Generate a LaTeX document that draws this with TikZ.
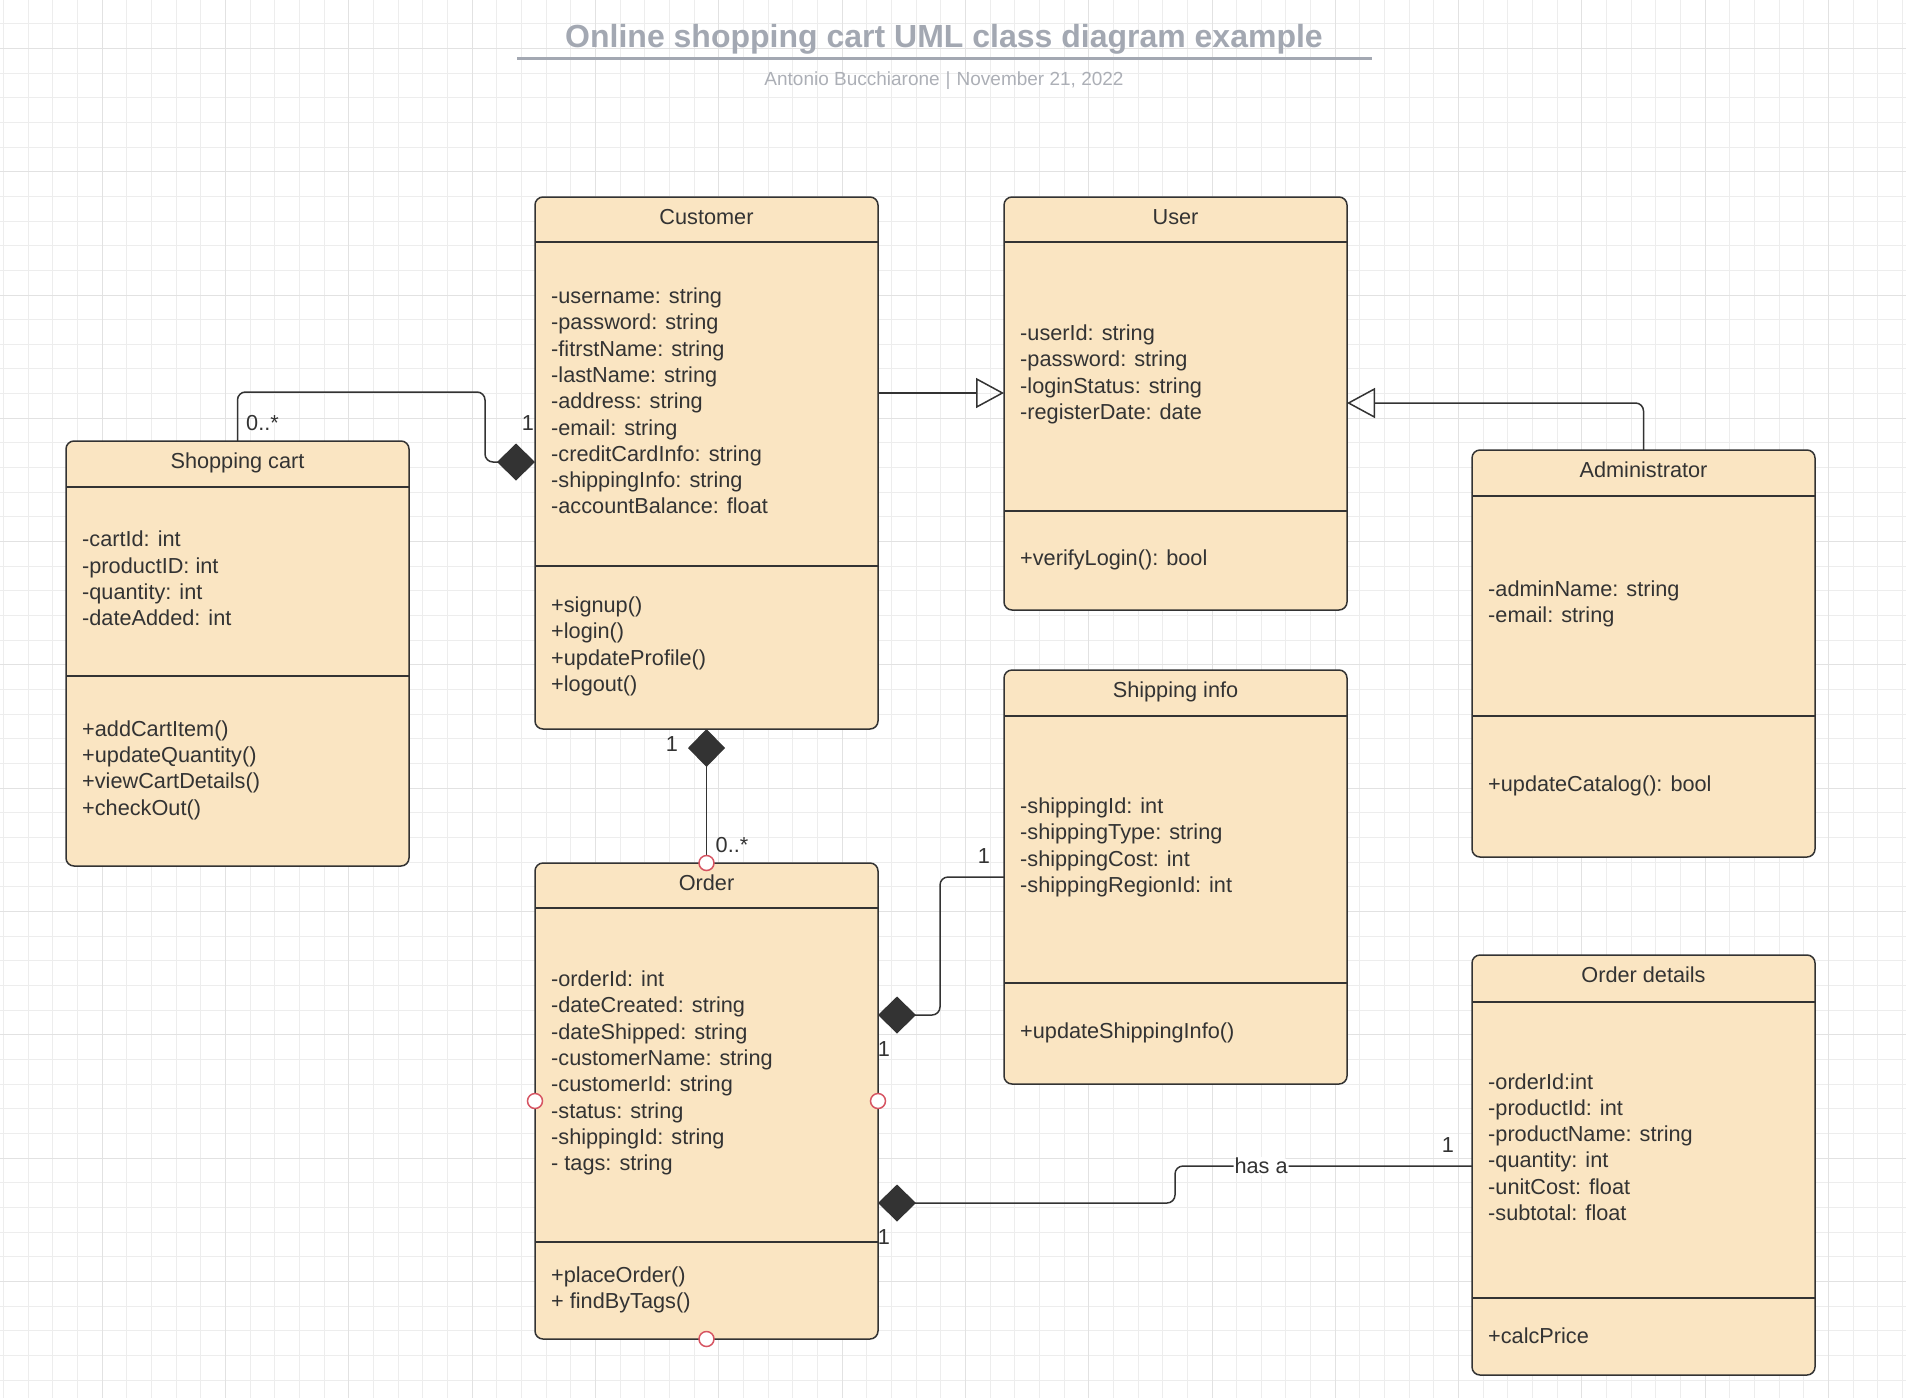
\documentclass[tikz,border=0pt]{standalone}
\usepackage{fontspec}
\setmainfont{Liberation Sans}
\usepackage{tikz}
\usetikzlibrary{arrows.meta}
\definecolor{gridminor}{RGB}{237,237,237}
\definecolor{gridmajor}{RGB}{226,226,226}
\definecolor{classfill}{RGB}{250,229,194}
\definecolor{classdraw}{RGB}{51,51,51}
\definecolor{titlegray}{RGB}{163,168,178}
\definecolor{subgray}{RGB}{172,175,182}
\definecolor{handlered}{RGB}{214,84,98}
\newcommand{\umlsize}{\fontsize{21.7}{26.3}\selectfont}

\begin{document}
\begin{tikzpicture}[x=1pt, y=-1pt,
  umlclass/.style={draw=classdraw, fill=classfill, line width=1.5pt, rounded corners=8pt,
    minimum width=343pt, anchor=north west, inner sep=0pt, outer sep=0pt},
  umlline/.style={draw=classdraw, line width=1.5pt},
  umlname/.style={anchor=base, text=classdraw, font=\umlsize, inner sep=0pt},
  umltext/.style={anchor=west, align=left, text=classdraw, font=\umlsize, inner sep=0pt},
  mult/.style={text=classdraw, font=\umlsize, inner sep=0pt},
  composition/.style={draw=classdraw, line width=1.5pt, rounded corners=8pt,
    arrows={Diamond[length=38pt,width=37pt]-}},
  generalization/.style={draw=classdraw, line width=1.5pt, rounded corners=8pt,
    arrows={-Triangle[open,length=28pt,width=30pt]}},
  handle/.style={circle, draw=handlered, fill=white, line width=1.5pt, minimum size=15pt, inner sep=0pt}]
  \useasboundingbox (0,0) rectangle (1906,1398);

  % Grid
  \foreach \gx in {3.66,28.32,...,1906} \draw[gridminor, line width=1pt] (\gx,0) -- (\gx,1398);
  \foreach \gy in {23.74,48.4,...,1398} \draw[gridminor, line width=1pt] (0,\gy) -- (1906,\gy);
  \foreach \gx in {102.3,225.6,...,1906} \draw[gridmajor, line width=1pt] (\gx,0) -- (\gx,1398);
  \foreach \gy in {48.4,171.7,...,1398} \draw[gridmajor, line width=1pt] (0,\gy) -- (1906,\gy);

  % Title
  \node[font=\fontsize{32}{38}\selectfont\bfseries, text=titlegray] (title) at (944,39)
    {Online shopping cart UML class diagram example};
  \draw[titlegray, line width=3pt] (517,58.5) -- (1372,58.5);
  \node[font=\fontsize{19}{23}\selectfont, text=subgray] (subtitle) at (944,80.5)
    {Antonio Bucchiarone\hspace{6pt}|\hspace{6pt}November 21, 2022};

  % Customer
  \node[umlclass, minimum height=532pt] (customer) at (535,197) {};
  \draw[umlline] (customer.west |- 0,242) -- (customer.east |- 0,242);
  \draw[umlline] (customer.west |- 0,566) -- (customer.east |- 0,566);
  \node[umlname] (customername) at (customer.north |- 0,224) {Customer};
  \node[umltext] (customerattr) at (551,401) {-username: string\\-password: string\\-fitrstName: string\\-lastName: string\\-address: string\\-email: string\\-creditCardInfo: string\\-shippingInfo: string\\-accountBalance: float};
  \node[umltext] (customerops) at (551,646.5) {+signup()\\+login()\\+updateProfile()\\+logout()};

  % User
  \node[umlclass, minimum height=413pt] (user) at (1004,197) {};
  \draw[umlline] (user.west |- 0,242) -- (user.east |- 0,242);
  \draw[umlline] (user.west |- 0,511) -- (user.east |- 0,511);
  \node[umlname] (username) at (user.north |- 0,224) {User};
  \node[umltext] (userattr) at (1020,374.5) {-userId: string\\-password: string\\-loginStatus: string\\-registerDate: date};
  \node[umltext] (userops) at (1020,559.5) {+verifyLogin(): bool};

  % Shopping cart
  \node[umlclass, minimum height=425pt] (cart) at (66,441) {};
  \draw[umlline] (cart.west |- 0,487) -- (cart.east |- 0,487);
  \draw[umlline] (cart.west |- 0,676) -- (cart.east |- 0,676);
  \node[umlname] (cartname) at (cart.north |- 0,468) {Shopping cart};
  \node[umltext] (cartattr) at (82,578.5) {-cartId: int\\-productID: int\\-quantity: int\\-dateAdded: int};
  \node[umltext] (cartops) at (82,770) {+addCartItem()\\+updateQuantity()\\+viewCartDetails()\\+checkOut()};

  % Administrator
  \node[umlclass, minimum height=407pt] (admin) at (1472,450) {};
  \draw[umlline] (admin.west |- 0,496) -- (admin.east |- 0,496);
  \draw[umlline] (admin.west |- 0,716) -- (admin.east |- 0,716);
  \node[umlname] (adminname) at (admin.north |- 0,477) {Administrator};
  \node[umltext] (adminattr) at (1488,604) {-adminName: string\\-email: string};
  \node[umltext] (adminops) at (1488,785.5) {+updateCatalog(): bool};

  % Shipping info
  \node[umlclass, minimum height=414pt] (shipinfo) at (1004,670) {};
  \draw[umlline] (shipinfo.west |- 0,716) -- (shipinfo.east |- 0,716);
  \draw[umlline] (shipinfo.west |- 0,983) -- (shipinfo.east |- 0,983);
  \node[umlname] (shipinfoname) at (shipinfo.north |- 0,697) {Shipping info};
  \node[umltext] (shipinfoattr) at (1020,847.5) {-shippingId: int\\-shippingType: string\\-shippingCost: int\\-shippingRegionId: int};
  \node[umltext] (shipinfoops) at (1020,1032.5) {+updateShippingInfo()};

  % Order
  \node[umlclass, minimum height=476pt] (order) at (535,863) {};
  \draw[umlline] (order.west |- 0,908) -- (order.east |- 0,908);
  \draw[umlline] (order.west |- 0,1242) -- (order.east |- 0,1242);
  \node[umlname] (ordername) at (order.north |- 0,890) {Order};
  \node[umltext] (orderattr) at (551,1073) {-orderId: int\\-dateCreated: string\\-dateShipped: string\\-customerName: string\\-customerId: string\\-status: string\\-shippingId: string\\- tags: string};
  \node[umltext] (orderops) at (551,1290) {+placeOrder()\\+ findByTags()};

  % Order details
  \node[umlclass, minimum height=420pt] (details) at (1472,955) {};
  \draw[umlline] (details.west |- 0,1002) -- (details.east |- 0,1002);
  \draw[umlline] (details.west |- 0,1298) -- (details.east |- 0,1298);
  \node[umlname] (detailsname) at (details.north |- 0,982) {Order details};
  \node[umltext] (detailsattr) at (1488,1147) {-orderId:int\\-productId: int\\-productName: string\\-quantity: int\\-unitCost: float\\-subtotal: float};
  \node[umltext] (detailsops) at (1488,1335.5) {+calcPrice};

  % Generalizations
  \draw[generalization] (customer.east |- 0,393) -- (user.west |- 0,393);
  \draw[generalization] (admin.north) |- (user.east |- 0,403);

  % Compositions
  \draw[composition] (customer.west |- 0,462) -| (485,392) -| (cart.north);
  \draw[composition] (customer.south) -- (order.north);
  \draw[composition] (order.east |- 0,1015) -| (940,877) -- (shipinfo.west |- 0,877);
  \draw[composition] (order.east |- 0,1203) -| (1175,1166)
    -- node[pos=0.29, fill=white, font=\umlsize, text=classdraw, inner sep=1pt] (hasa) {has a} (details.west |- 0,1166);

  % Multiplicities
  \node[mult, anchor=west] (cartmany) at (246,423) {0..*};
  \node[mult] (custone) at (528,423) {1};
  \node[mult] (custorderone) at (672,744) {1};
  \node[mult] (ordermany) at (732,845) {0..*};
  \node[mult] (shipone) at (984,856) {1};
  \node[mult] (ordershipone) at (884,1049) {1};
  \node[mult] (detailsone) at (1448,1145) {1};
  \node[mult] (orderdetailsone) at (884,1237) {1};

  % Selection handles on Order
  \node[handle] (handletop) at (order.north) {};
  \node[handle] (handleleft) at (order.west) {};
  \node[handle] (handleright) at (order.east) {};
  \node[handle] (handlebottom) at (order.south) {};
\end{tikzpicture}
\end{document}
